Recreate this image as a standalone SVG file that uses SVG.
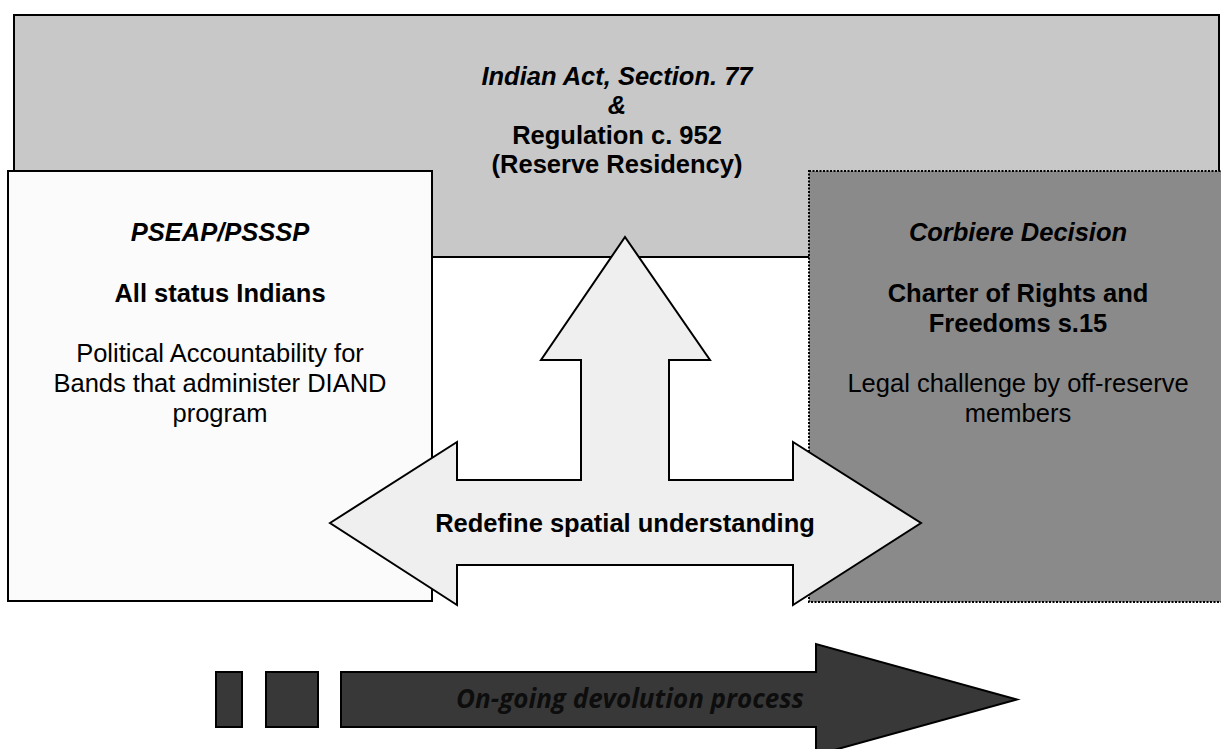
<svg xmlns="http://www.w3.org/2000/svg" width="1221" height="749" viewBox="0 0 1221 749">
<style>
.t{font-family:"Liberation Sans",Arial,sans-serif;font-size:25.5px;fill:#000;text-anchor:middle}
.b{font-weight:bold}
.i{font-style:italic}
.box{stroke:#000;stroke-width:2}
.dark{fill:#383838;stroke:#000;stroke-width:2}
</style>
<rect width="1221" height="749" fill="#fff"/>
<g id="top-node">
<rect class="box" x="14" y="15" width="1205" height="242" fill="#c8c8c8"/>
<text class="t b i" x="617" y="85">Indian Act, Section. 77</text>
<text class="t b i" x="617" y="114">&amp;</text>
<text class="t b" x="617" y="144">Regulation c. 952</text>
<text class="t b" x="617" y="173">(Reserve Residency)</text>
</g>
<g id="left-node">
<rect class="box" x="8" y="171" width="424" height="430" fill="#fbfbfb"/>
<text class="t b i" x="220" y="241">PSEAP/PSSSP</text>
<text class="t b" x="220" y="302">All status Indians</text>
<text class="t" x="220" y="362">Political Accountability for</text>
<text class="t" x="220" y="392">Bands that administer DIAND</text>
<text class="t" x="220" y="422">program</text>
</g>
<g id="right-node">
<rect x="809" y="171" width="420" height="431" fill="#8a8a8a" stroke="#000" stroke-width="2" stroke-dasharray="2 1.5"/>
<text class="t b i" x="1018" y="241">Corbiere Decision</text>
<text class="t b" x="1018" y="302">Charter of Rights and</text>
<text class="t b" x="1018" y="332">Freedoms s.15</text>
<text class="t" x="1018" y="392">Legal challenge by off-reserve</text>
<text class="t" x="1018" y="422">members</text>
</g>
<g id="connectors">
<g id="spatial-arrow">
<polygon class="box" fill="#efefef" points="330,523 457,442 457,480 581,480 581,360 541,360 625,237 710,360 669,360 669,480 793,480 793,442 921,523 793,605 793,565 457,565 457,605"/>
<text class="t b" x="625" y="532">Redefine spatial understanding</text>
</g>
<g id="devolution-arrow">
<rect class="dark" x="216" y="672" width="26" height="55"/>
<rect class="dark" x="266" y="672" width="52" height="55"/>
<polygon class="dark" points="341,672 816,672 816,644 1017,699.5 816,755 816,727 341,727"/>
<text x="630" y="708" font-family="'Open Sans','Noto Sans',sans-serif" font-size="26" font-weight="bold" font-style="italic" fill="#0d0d0d" text-anchor="middle">On-going devolution process</text>
</g>
</g>
</svg>
